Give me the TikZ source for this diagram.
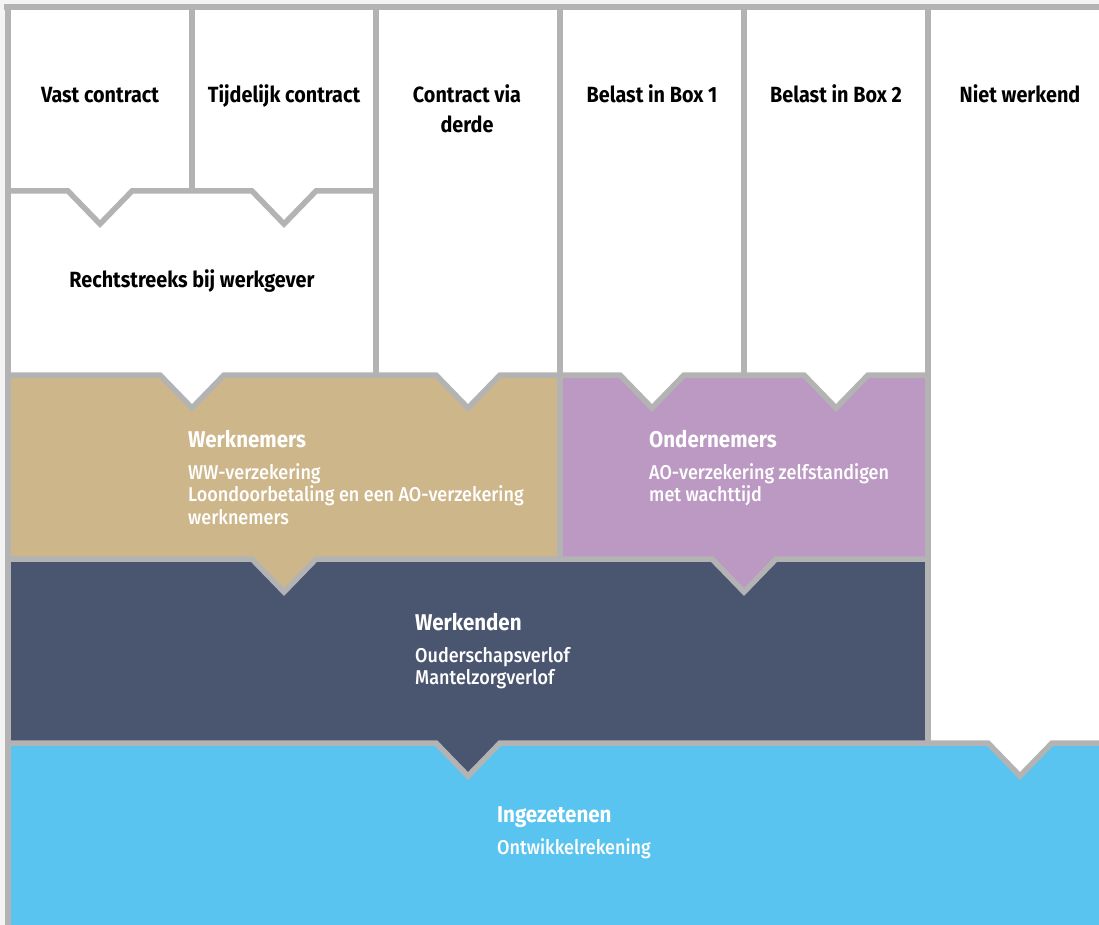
\documentclass[tikz,border=0pt]{standalone}
\usepackage{fontspec}
\setmainfont{Fira Sans}[FakeStretch=0.9]
\newfontfamily\medfont{Fira Sans Medium}[FakeStretch=0.9]
\definecolor{bgc}{HTML}{F4F4F4}
\definecolor{linec}{HTML}{B4B3B4}
\definecolor{tanc}{HTML}{CDB68A}
\definecolor{purc}{HTML}{BB99C2}
\definecolor{navc}{HTML}{4A5570}
\definecolor{bluc}{HTML}{5AC4F0}
\tikzset{
  gridline/.style={draw=linec, line width=5.5pt, line join=miter, line cap=butt},
  toplbl/.style={font=\bfseries\fontsize{22}{26}\selectfont, text=black, inner sep=0pt, anchor=base},
  ttl/.style={font=\bfseries\fontsize{22.8}{26}\selectfont, text=white, inner sep=0pt, anchor=base west},
  bdy/.style={font=\medfont\fontsize{20}{22}\selectfont, text=white, inner sep=0pt, anchor=base west}
}
\begin{document}
\begin{tikzpicture}[x=1pt,y=-1pt]
\useasboundingbox (0,0) rectangle (1099,925);
% backgrounds
\fill[bgc] (0,0) rectangle (1099,925);
\fill[white] (8,7) rectangle (1099,925);
\fill[tanc] (8,375) rectangle (560,559);
\fill[purc] (560,375) rectangle (928,559);
\fill[navc] (8,559) rectangle (928,743);
\fill[bluc] (8,743) rectangle (1099,925);
% tabs of upper boxes
\foreach \cx in {192,468,652,836}
  \fill[white] (\cx-32,375) -- (\cx,408) -- (\cx+32,375) -- cycle;
\fill[tanc] (252,559) -- (284,592) -- (316,559) -- cycle;
\fill[purc] (712,559) -- (744,592) -- (776,559) -- cycle;
\fill[navc] (436,743) -- (468,776) -- (500,743) -- cycle;
\fill[white] (988,743) -- (1020,776) -- (1052,743) -- cycle;
% grid lines
\draw[gridline] (4,7) -- (1099,7);
\draw[gridline] (8,4) -- (8,925);
\draw[gridline] (192,7) -- (192,191);
\draw[gridline] (376,7) -- (376,375);
\draw[gridline] (560,7) -- (560,559);
\draw[gridline] (744,7) -- (744,375);
\draw[gridline] (928,7) -- (928,743);
\draw[gridline] (8,191) -- (68,191) -- (100,224) -- (132,191) -- (252,191) -- (284,224) -- (316,191) -- (376,191);
\draw[gridline] (8,375) -- (160,375) -- (192,408) -- (224,375) -- (436,375) -- (468,408) -- (500,375)
  -- (620,375) -- (652,408) -- (684,375) -- (804,375) -- (836,408) -- (868,375) -- (928,375);
\draw[gridline] (8,559) -- (252,559) -- (284,592) -- (316,559) -- (712,559) -- (744,592) -- (776,559) -- (928,559);
\draw[gridline] (8,743) -- (436,743) -- (468,776) -- (500,743) -- (988,743) -- (1020,776) -- (1052,743) -- (1099,743);
% top labels
\node[toplbl] (vast) at (100,103) {Vast contract};
\node[toplbl] (tijd) at (284,103) {Tijdelijk contract};
\node[toplbl] (derde1) at (467,103) {Contract via};
\node[toplbl] (derde2) at (467,133) {derde};
\node[toplbl] (box1) at (652,103) {Belast in Box 1};
\node[toplbl] (box2) at (836,103) {Belast in Box 2};
\node[toplbl] (niet) at (1020,103) {Niet werkend};
\node[toplbl] (recht) at (192,287) {Rechtstreeks bij werkgever};
% colored boxes
\node[ttl] (wn) at (188,447) {Werknemers};
\node[bdy] (wn1) at (188,479) {WW-verzekering};
\node[bdy] (wn2) at (188,501.5) {Loondoorbetaling en een AO-verzekering};
\node[bdy] (wn3) at (188,524) {werknemers};
\node[ttl] (on) at (649,447) {Ondernemers};
\node[bdy] (on1) at (649,479) {AO-verzekering zelfstandigen};
\node[bdy] (on2) at (649,501.5) {met wachttijd};
\node[ttl] (wk) at (415,630) {Werkenden};
\node[bdy] (wk1) at (415,662) {Ouderschapsverlof};
\node[bdy] (wk2) at (415,684.5) {Mantelzorgverlof};
\node[ttl] (iz) at (497,822) {Ingezetenen};
\node[bdy] (iz1) at (497,854) {Ontwikkelrekening};
\end{tikzpicture}
\end{document}
